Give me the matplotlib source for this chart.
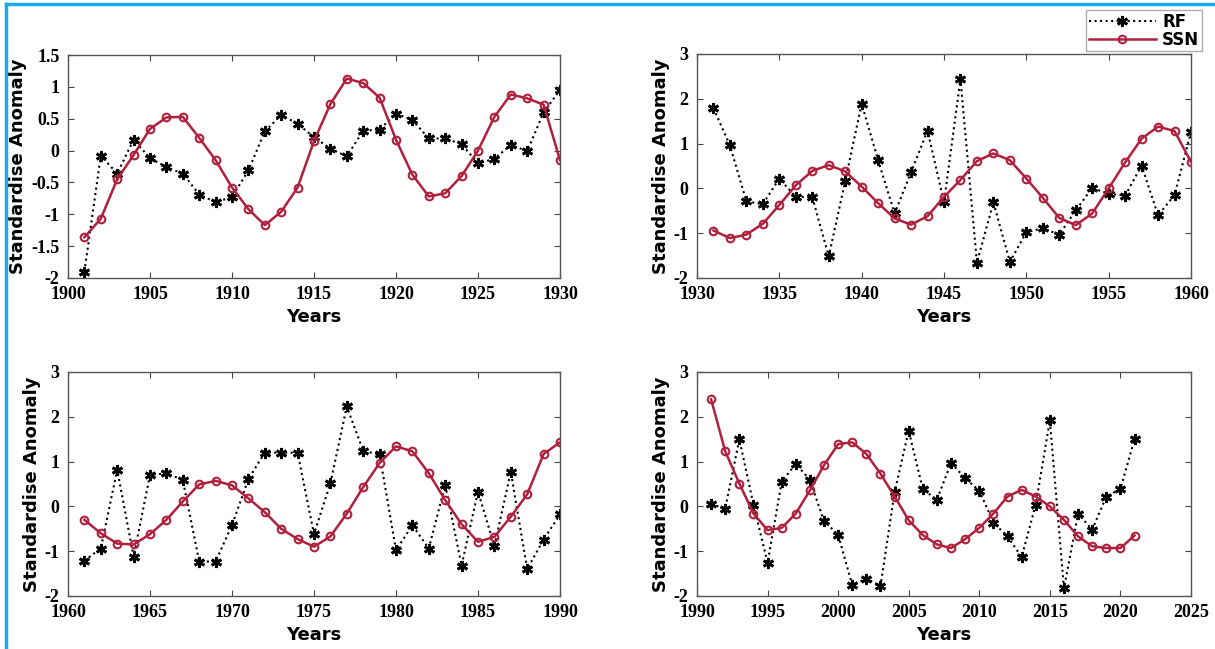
import matplotlib.pyplot as plt
from matplotlib.lines import Line2D
from matplotlib.ticker import FuncFormatter

# ---- data ----
years1 = list(range(1901, 1931))
rf1 = [-1.90, -0.08, -0.36, 0.17, -0.12, -0.26, -0.36, -0.69, -0.81, -0.73,
       -0.31, 0.30, 0.56, 0.42, 0.21, 0.03, -0.09, 0.31, 0.33, 0.58,
       0.48, 0.19, 0.19, 0.10, -0.20, -0.13, 0.09, -0.01, 0.60, 0.95]
ssn1 = [-1.36, -1.07, -0.45, -0.07, 0.34, 0.52, 0.53, 0.20, -0.15, -0.58,
        -0.92, -1.17, -0.96, -0.58, 0.15, 0.73, 1.13, 1.06, 0.83, 0.17,
        -0.38, -0.72, -0.67, -0.40, 0.00, 0.53, 0.88, 0.82, 0.72, -0.15]

years2 = list(range(1931, 1961))
rf2 = [1.79, 0.96, -0.29, -0.35, 0.22, -0.19, -0.19, -1.52, 0.16, 1.89,
       0.63, -0.56, 0.36, 1.29, -0.31, 2.44, -1.66, -0.31, -1.64, -0.98,
       -0.89, -1.03, -0.49, 0.01, -0.12, -0.16, 0.51, -0.60, -0.15, 1.26]
ssn2 = [-0.94, -1.11, -1.03, -0.79, -0.37, 0.07, 0.39, 0.52, 0.38, 0.04,
        -0.33, -0.67, -0.81, -0.62, -0.19, 0.19, 0.61, 0.78, 0.63, 0.22,
        -0.21, -0.66, -0.82, -0.56, 0.00, 0.58, 1.11, 1.38, 1.28, 0.59]

years3 = list(range(1961, 1991))
rf3 = [-1.21, -0.94, 0.82, -1.12, 0.70, 0.74, 0.59, -1.23, -1.23, -0.42,
       0.61, 1.20, 1.20, 1.20, -0.62, 0.52, 2.23, 1.24, 1.16, -0.98,
       -0.42, -0.94, 0.48, -1.32, 0.33, -0.89, 0.77, -1.40, -0.74, -0.18]
ssn3 = [-0.30, -0.60, -0.83, -0.85, -0.62, -0.30, 0.11, 0.49, 0.57, 0.47,
        0.18, -0.13, -0.50, -0.73, -0.90, -0.67, -0.16, 0.43, 0.97, 1.34,
        1.23, 0.74, 0.14, -0.40, -0.79, -0.68, -0.23, 0.27, 1.17, 1.43]

years4 = list(range(1991, 2022))
rf4 = [0.05, -0.05, 1.50, 0.04, -1.26, 0.55, 0.95, 0.59, -0.33, -0.63,
       -1.76, -1.61, -1.78, 0.32, 1.69, 0.38, 0.15, 0.97, 0.63, 0.35,
       -0.36, -0.67, -1.13, 0.04, 1.92, -1.83, -0.16, -0.52, 0.22, 0.39, 1.50]
ssn4 = [2.39, 1.23, 0.51, -0.16, -0.53, -0.48, -0.16, 0.36, 0.92, 1.39,
        1.43, 1.17, 0.73, 0.22, -0.31, -0.64, -0.85, -0.93, -0.73, -0.48,
        -0.16, 0.22, 0.37, 0.22, 0.00, -0.30, -0.67, -0.89, -0.93, -0.93, -0.65]

W, H = 1215, 649
fig = plt.figure(figsize=(W / 100, H / 100), dpi=100)

red = '#b0203c'
tick_font = {'family': 'Liberation Serif', 'weight': 'bold', 'size': 13}
lab_font = {'family': 'DejaVu Sans', 'weight': 'heavy', 'size': 13}


def box(x0, y0, x1, y1):
    return [x0 / W, 1 - y1 / H, (x1 - x0) / W, (y1 - y0) / H]


panels = [
    (box(68, 55, 560, 278), years1, rf1, ssn1, (1900, 1930), (-2, 1.5), 0.5),
    (box(697, 54, 1191, 278), years2, rf2, ssn2, (1930, 1960), (-2, 3), 1),
    (box(68, 372, 560, 596), years3, rf3, ssn3, (1960, 1990), (-2, 3), 1),
    (box(697, 372, 1191, 596), years4, rf4, ssn4, (1990, 2025), (-2, 3), 1),
]

fmt = FuncFormatter(lambda v, p: ('%g' % v).replace('\u2212', '-'))

for rect, yrs, rf, ssn, xl, yl, ystep in panels:
    ax = fig.add_axes(rect)
    ax.plot(yrs, rf, color='black', ls=':', lw=1.5, marker=(6, 2, 0),
            ms=8, mew=2.0, label='RF')
    ax.plot(yrs, ssn, color=red, ls='-', lw=1.8, marker='o', ms=5.5,
            mfc='none', mew=1.5, label='SSN')
    ax.set_xlim(*xl)
    ax.set_ylim(*yl)
    ax.set_xticks(list(range(xl[0], xl[1] + 1, 5)))
    n = int(round((yl[1] - yl[0]) / ystep))
    ax.set_yticks([yl[0] + i * ystep for i in range(n + 1)])
    ax.yaxis.set_major_formatter(fmt)
    ax.tick_params(direction='in', top=True, right=True, length=4,
                   width=0.8, color='#444444', pad=6)
    for lbl in ax.get_xticklabels() + ax.get_yticklabels():
        lbl.set_fontproperties(tick_font)
    for s in ax.spines.values():
        s.set_color('#555555')
        s.set_linewidth(1.0)
    ax.set_xlabel('Years', fontdict=lab_font, labelpad=3)
    ax.set_ylabel('Standardise Anomaly', fontdict=lab_font, labelpad=3)
    if xl[0] == 1930:
        # legend sits above the top-right panel
        leg = ax.legend(loc='upper right', bbox_to_anchor=(1.022, 1.196),
                        borderaxespad=0, numpoints=1, handlelength=4.0,
                        handletextpad=0.4, borderpad=0.15, labelspacing=0.0,
                        fancybox=False,
                        prop={'family': 'DejaVu Sans', 'weight': 'heavy',
                              'size': 12})
        leg.get_frame().set_edgecolor('#999999')
        leg.get_frame().set_linewidth(1.0)

# light blue page border (left and top)
blue = '#1aa9e6'
fig.add_artist(Line2D([6 / W, 6 / W], [0, 1 - 4 / H], color=blue, lw=2.5))
fig.add_artist(Line2D([6 / W, 1], [1 - 4 / H, 1 - 4 / H], color=blue, lw=2.5))

fig.savefig('out.png', dpi=100)
